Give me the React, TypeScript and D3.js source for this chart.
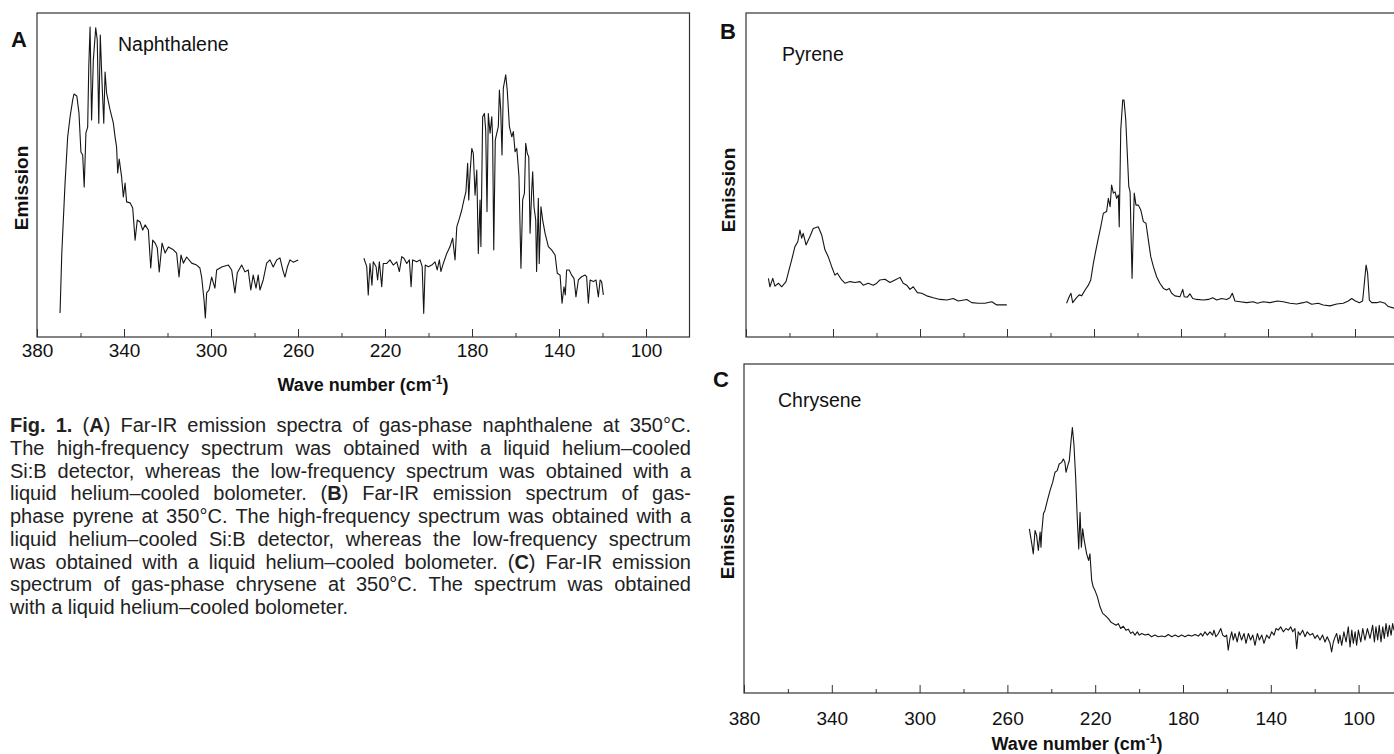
import { useEffect, useRef } from 'react';
import * as d3 from 'd3';

type Pt = [number, number];

// [wave number (cm-1), emission (arbitrary, 0-100 of the frame height)]
const naphthaleneHigh: Pt[] = [
    [369.4, 7.4], [368.6, 25.9], [367.1, 47.5], [365.9, 61.7], [364.8, 67.9], [363.6, 73.1], [363.0, 75.0],
    [361.7, 74.4], [360.7, 69.1], [359.8, 57.1], [359.0, 56.2], [358.3, 46.3], [357.5, 63.0], [356.7, 64.8],
    [356.2, 83.3], [355.6, 95.7], [354.9, 67.0], [354.1, 85.5], [353.0, 95.4], [352.3, 91.7], [351.6, 66.0],
    [350.9, 93.2], [350.1, 78.4], [349.3, 66.0], [348.7, 81.8], [348.0, 75.3], [346.4, 70.1], [344.9, 66.0],
    [344.1, 61.7], [343.4, 58.6], [342.9, 50.6], [342.2, 54.9], [341.1, 49.4], [340.3, 43.2], [339.5, 47.5],
    [338.8, 41.7], [337.2, 41.4], [336.0, 39.8], [334.9, 29.9], [333.9, 36.1], [332.6, 35.5], [331.4, 33.0],
    [330.3, 34.6], [328.8, 33.0], [327.7, 21.3], [326.8, 29.9], [325.7, 29.0], [324.7, 27.5], [323.8, 20.1],
    [322.5, 29.0], [321.1, 25.9], [319.6, 27.8], [317.3, 26.9], [315.8, 25.9], [314.7, 18.5], [313.8, 25.3],
    [312.7, 22.8], [311.2, 24.7], [308.9, 22.8], [306.6, 22.2], [305.1, 21.3], [304.3, 18.5], [303.2, 11.4],
    [302.6, 5.9], [302.0, 13.6], [300.9, 14.5], [299.7, 18.5], [298.2, 15.1], [297.4, 20.7], [295.1, 21.6],
    [292.0, 22.2], [290.5, 20.7], [289.0, 13.6], [287.9, 19.8], [285.9, 22.2], [284.4, 20.1], [282.9, 20.7],
    [281.7, 14.5], [280.6, 19.1], [279.3, 15.1], [278.3, 19.1], [277.5, 14.5], [276.0, 17.6], [274.4, 22.8],
    [272.9, 23.8], [271.4, 21.6], [269.8, 23.8], [268.3, 24.4], [267.0, 20.7], [266.0, 18.5], [264.9, 21.6],
    [263.7, 23.8], [262.2, 23.1], [259.9, 23.8],
];

const naphthaleneLow: Pt[] = [
    [229.7, 24.3], [228.4, 21.7], [227.7, 13.0], [226.9, 22.7], [226.0, 16.0], [225.4, 23.2], [224.1, 21.7],
    [223.4, 17.6], [222.6, 23.2], [221.5, 15.5], [220.8, 22.7], [219.2, 22.7], [217.7, 23.8], [216.2, 22.2],
    [214.6, 23.2], [213.4, 20.2], [212.3, 24.8], [211.3, 24.3], [210.0, 22.7], [208.8, 23.8], [208.0, 15.5],
    [207.3, 23.8], [205.4, 23.2], [203.9, 23.8], [202.9, 21.7], [202.2, 7.3], [201.5, 22.2], [200.1, 21.7],
    [198.5, 22.2], [197.0, 23.2], [196.0, 20.7], [195.0, 23.8], [194.3, 20.2], [193.2, 22.7], [191.6, 25.8],
    [190.1, 27.9], [188.9, 30.5], [187.8, 23.8], [187.0, 34.0], [185.8, 36.6], [184.7, 39.2], [183.7, 42.3],
    [182.8, 44.8], [182.0, 53.6], [181.5, 42.3], [180.9, 50.5], [180.1, 58.2], [179.4, 56.7], [178.6, 43.8],
    [177.8, 51.5], [177.1, 25.8], [176.3, 42.3], [175.9, 27.9], [175.1, 68.0], [174.3, 69.0], [173.7, 63.9],
    [173.1, 38.7], [172.5, 69.0], [171.7, 62.9], [170.9, 68.0], [170.5, 60.8], [170.0, 26.9], [169.3, 60.8],
    [168.6, 62.9], [167.9, 64.9], [167.4, 76.2], [166.8, 70.1], [166.2, 56.2], [165.6, 76.8], [164.5, 80.9],
    [163.8, 76.2], [162.8, 64.9], [161.7, 61.8], [161.0, 63.4], [160.2, 57.2], [159.4, 58.2], [158.4, 49.5],
    [157.5, 21.2], [156.7, 42.3], [155.9, 44.4], [155.3, 59.8], [154.6, 56.7], [153.9, 55.6], [153.3, 32.0],
    [152.6, 44.4], [152.1, 51.0], [151.5, 40.2], [150.7, 36.1], [150.3, 20.2], [149.5, 42.8], [149.1, 22.7],
    [148.3, 40.2], [147.5, 36.1], [146.4, 32.0], [144.9, 27.9], [143.4, 26.9], [141.8, 25.3], [140.8, 19.7],
    [139.5, 19.1], [138.6, 10.4], [137.7, 15.5], [137.1, 13.0], [136.5, 20.7], [135.3, 20.7], [134.2, 19.1],
    [133.1, 18.1], [132.2, 12.4], [131.1, 17.6], [129.6, 18.6], [128.0, 19.1], [127.3, 18.6], [126.5, 10.4],
    [125.7, 17.6], [124.2, 17.1], [123.0, 17.6], [121.9, 12.4], [121.1, 17.6], [120.4, 17.1], [119.6, 13.0],
];

const pyreneHigh: Pt[] = [
    [369.7, 18.1], [369.0, 15.5], [367.7, 18.1], [366.7, 15.7], [365.1, 16.6], [363.6, 15.5], [361.6, 17.1],
    [360.6, 19.7], [359.0, 23.8], [357.5, 27.9], [356.2, 29.4], [355.2, 33.0], [354.4, 30.5], [353.7, 32.0],
    [352.4, 28.4], [350.6, 31.0], [349.1, 33.5], [346.8, 34.0], [345.2, 31.5], [343.7, 26.9], [342.2, 24.8],
    [340.6, 21.7], [339.1, 19.1], [338.0, 19.7], [336.0, 17.6], [334.5, 16.6], [332.2, 17.1], [329.9, 16.8],
    [327.6, 17.1], [326.1, 16.0], [323.8, 16.6], [321.5, 16.0], [319.9, 16.6], [318.4, 17.6], [316.1, 17.8],
    [313.8, 16.8], [311.5, 17.6], [309.2, 18.4], [307.7, 16.6], [306.1, 16.0], [304.6, 14.7], [303.1, 15.5],
    [301.2, 13.7], [299.2, 13.5], [296.9, 12.7], [293.9, 12.1], [290.8, 11.6], [287.7, 11.4], [284.7, 11.9],
    [282.4, 11.1], [278.5, 11.6], [276.2, 10.6], [273.2, 10.4], [270.1, 10.4], [267.0, 10.9], [264.7, 9.9],
    [262.4, 9.9], [260.1, 9.9],
];

const pyreneLow: Pt[] = [
    [232.6, 10.4], [231.4, 12.4], [230.6, 13.5], [229.8, 10.6], [228.3, 11.9], [226.8, 13.0], [225.7, 12.7],
    [224.1, 14.5], [222.6, 16.0], [221.5, 17.6], [220.3, 22.7], [219.1, 26.9], [218.0, 30.5], [216.9, 34.0],
    [215.7, 38.2], [214.2, 38.7], [213.4, 42.8], [212.6, 40.2], [211.9, 46.9], [211.1, 44.4], [210.3, 44.8],
    [209.6, 42.8], [208.8, 43.8], [208.4, 34.0], [207.7, 63.9], [206.8, 73.1], [206.2, 73.1], [205.4, 67.0],
    [204.7, 56.7], [204.0, 46.4], [203.4, 44.8], [202.5, 18.1], [201.5, 44.4], [200.7, 40.7], [199.6, 40.7],
    [198.5, 39.2], [197.3, 35.6], [196.1, 35.1], [195.0, 29.9], [193.9, 24.8], [192.7, 21.7], [191.2, 18.6],
    [189.7, 16.6], [188.1, 15.0], [186.6, 14.5], [185.4, 15.0], [184.3, 13.5], [182.8, 12.7], [180.5, 12.4],
    [179.2, 14.7], [178.5, 12.4], [177.1, 12.3], [175.9, 13.3], [174.6, 11.9], [172.8, 11.6], [169.7, 11.4],
    [167.4, 11.6], [165.4, 12.1], [163.6, 11.4], [161.3, 11.9], [159.0, 11.6], [157.5, 12.1], [156.4, 13.5],
    [155.2, 11.1], [152.9, 10.9], [149.8, 10.6], [146.8, 10.9], [144.9, 10.4], [142.2, 10.9], [139.1, 10.6],
    [135.7, 11.1], [133.0, 10.9], [129.9, 10.4], [126.8, 10.2], [123.8, 10.6], [122.2, 10.9], [119.9, 10.1],
    [116.9, 10.4], [114.6, 9.9], [111.5, 9.6], [108.4, 10.2], [105.4, 10.4], [103.1, 11.1], [101.5, 11.9],
    [100.0, 11.2], [98.0, 10.6], [96.5, 11.1], [95.7, 16.6], [94.9, 22.2], [94.2, 19.7], [93.4, 11.4],
    [92.3, 10.6], [90.0, 10.6], [88.5, 10.9], [86.2, 10.4], [84.7, 9.4], [82.1, 8.9],
];

const chrysene: Pt[] = [
    [250.0, 49.9], [248.9, 45.4], [248.2, 42.3], [247.4, 49.4], [246.7, 47.9], [245.9, 43.3], [245.1, 48.9],
    [244.7, 44.3], [244.4, 48.4], [243.6, 54.5], [242.9, 55.5], [241.8, 58.5], [240.6, 61.5], [239.4, 64.0],
    [238.3, 67.1], [237.3, 67.6], [236.4, 69.6], [235.3, 70.1], [234.5, 71.1], [233.8, 70.1], [233.3, 67.1],
    [232.5, 69.1], [231.8, 70.6], [231.0, 76.7], [230.4, 80.7], [229.7, 75.7], [228.9, 65.5], [228.2, 53.4],
    [227.5, 43.8], [226.9, 54.9], [226.3, 44.3], [225.7, 49.9], [225.0, 46.4], [223.9, 42.3], [223.0, 40.3],
    [222.4, 42.3], [221.6, 34.2], [220.9, 32.2], [220.1, 31.2], [219.0, 29.2], [217.8, 26.2], [216.6, 24.2],
    [215.5, 23.6], [214.0, 22.6], [212.9, 21.6], [211.8, 21.1], [210.5, 20.6], [209.5, 21.1], [208.4, 19.6],
    [207.2, 20.3], [206.0, 19.1], [204.9, 19.4], [203.8, 18.1], [202.9, 18.6], [201.9, 17.6], [200.8, 18.6],
    [199.9, 17.6], [198.8, 18.1], [197.3, 17.6], [195.8, 17.9], [194.3, 17.1], [192.8, 17.6], [191.3, 17.1],
    [189.7, 17.3], [188.2, 17.1], [186.7, 17.8], [185.1, 17.1], [183.6, 17.6], [182.1, 17.1], [180.6, 17.6],
    [179.1, 17.1], [177.6, 17.6], [176.0, 17.3], [174.5, 17.8], [173.0, 17.3], [171.9, 18.1], [171.0, 17.3],
    [170.0, 18.6], [168.9, 17.6], [167.7, 18.6], [166.5, 17.6], [165.9, 19.1], [165.0, 17.1], [163.9, 18.1],
    [162.8, 19.6], [161.9, 17.6], [160.9, 17.1], [160.1, 17.6], [159.4, 13.0], [158.6, 16.6], [157.8, 18.6],
    [157.1, 16.1], [156.3, 18.1], [155.3, 15.5], [154.4, 18.6], [153.3, 16.1], [152.2, 18.1], [151.3, 15.1],
    [150.2, 18.1], [149.2, 16.1], [148.2, 17.6], [147.2, 14.5], [146.1, 18.1], [145.2, 16.1], [144.1, 17.6],
    [143.1, 15.1], [141.9, 17.6], [140.7, 16.6], [139.6, 18.6], [138.5, 17.6], [137.6, 19.6], [136.6, 19.1],
    [135.5, 20.1], [134.3, 18.6], [133.1, 19.6], [132.0, 19.1], [130.9, 20.1], [130.0, 18.6], [129.0, 19.6],
    [128.2, 13.5], [127.5, 18.6], [126.7, 17.6], [125.5, 19.1], [124.4, 17.1], [123.4, 18.6], [122.1, 17.6],
    [120.9, 18.1], [119.9, 16.6], [118.8, 17.6], [117.6, 16.1], [116.4, 17.6], [115.3, 15.5], [114.3, 17.1],
    [113.0, 15.1], [112.3, 12.5], [111.5, 15.5], [110.8, 16.9], [110.0, 18.1], [109.2, 15.1], [108.5, 17.6],
    [107.7, 14.5], [106.7, 18.6], [105.7, 15.5], [104.7, 20.1], [103.9, 14.0], [103.1, 19.1], [102.4, 15.1],
    [101.6, 18.6], [100.9, 14.5], [100.1, 19.1], [99.0, 15.5], [98.1, 19.6], [97.1, 16.1], [96.0, 19.6],
    [94.8, 16.6], [93.6, 20.6], [92.8, 15.5], [92.1, 20.1], [91.3, 16.1], [90.6, 20.6], [89.8, 15.5],
    [89.0, 20.1], [88.3, 16.6], [87.5, 21.1], [86.7, 17.1], [86.0, 20.6], [85.2, 17.6], [84.5, 21.1],
    [83.9, 19.1],
];

const majorTicks = [380, 340, 300, 260, 220, 180, 140, 100];
const minorTicks = [360, 320, 280, 240, 200, 160, 120];
const panelLetters = ['A', 'B', 'C'];
const compoundNames = ['Naphthalene', 'Pyrene', 'Chrysene'];

// Caption, one entry per printed line; **...** marks bold runs
const captionLines = [
    '**Fig. 1.** (**A**) Far-IR emission spectra of gas-phase naphthalene at 350°C.',
    'The high-frequency spectrum was obtained with a liquid helium–cooled',
    'Si:B detector, whereas the low-frequency spectrum was obtained with a',
    'liquid helium–cooled bolometer. (**B**) Far-IR emission spectrum of gas-',
    'phase pyrene at 350°C. The high-frequency spectrum was obtained with a',
    'liquid helium–cooled Si:B detector, whereas the low-frequency spectrum',
    'was obtained with a liquid helium–cooled bolometer. (**C**) Far-IR emission',
    'spectrum of gas-phase chrysene at 350°C. The spectrum was obtained',
    'with a liquid helium–cooled bolometer.',
];

const FONT = '"Liberation Sans", Arial, Helvetica, sans-serif';

export default function App() {
    const svgRef = useRef<SVGSVGElement>(null);

    useEffect(() => {
        if (!svgRef.current) return;

        const svg = d3.select(svgRef.current);
        svg.selectAll('*').remove();

        const lineColor = '#151515';
        const frameColor = '#333';
        const textColor = '#111';

        // panel geometry (pixels)
        const layout = [
            { left: 37, right: 689.5, top: 13, bottom: 337, data: [naphthaleneHigh, naphthaleneLow], labelPad: 6.5,
              letter: [11, 47], name: [118, 51], emission: [28, 188], title: [363, 391] },
            { left: 746, right: 1398.5, top: 13, bottom: 337, data: [pyreneHigh, pyreneLow], labelPad: null,
              letter: [720, 39], name: [782, 61], emission: [735, 190], title: null },
            { left: 744, right: 1402.5, top: 364, bottom: 693, data: [chrysene], labelPad: 18.5,
              letter: [713, 387], name: [778, 407], emission: [734, 537], title: [1077, 750] },
        ];

        layout.forEach((p, i) => {
            const g = svg.append('g');

            const x = d3.scaleLinear().domain([380, 80]).range([p.left, p.right]);
            const y = d3.scaleLinear().domain([0, 100]).range([p.bottom, p.top]);

            // frame
            g.append('rect')
                .attr('x', p.left)
                .attr('y', p.top)
                .attr('width', p.right - p.left)
                .attr('height', p.bottom - p.top)
                .attr('fill', 'none')
                .attr('stroke', frameColor)
                .attr('stroke-width', 1.2);

            // major ticks point inward, labels below
            const major = d3.axisBottom(x)
                .tickValues(majorTicks)
                .tickSize(-8)
                .tickPadding(p.labelPad ?? 0)
                .tickFormat(p.labelPad === null ? () => '' : d3.format('d'));

            g.append('g')
                .attr('transform', `translate(0,${p.bottom})`)
                .call(major)
                .call(a => a.select('.domain').remove())
                .attr('font-family', FONT)
                .attr('font-size', 19)
                .style('color', frameColor)
                .call(a => a.selectAll('text').attr('fill', textColor));

            const minor = d3.axisBottom(x)
                .tickValues(minorTicks)
                .tickSize(-4)
                .tickFormat(() => '');

            g.append('g')
                .attr('transform', `translate(0,${p.bottom})`)
                .call(minor)
                .call(a => a.select('.domain').remove())
                .style('color', frameColor);

            // spectra
            const line = d3.line<Pt>()
                .x(d => x(d[0]))
                .y(d => y(d[1]));

            p.data.forEach(seg => {
                g.append('path')
                    .datum(seg)
                    .attr('d', line)
                    .attr('fill', 'none')
                    .attr('stroke', lineColor)
                    .attr('stroke-width', 1.1)
                    .attr('stroke-linejoin', 'round');
            });

            // labels
            g.append('text')
                .attr('x', p.letter[0])
                .attr('y', p.letter[1])
                .attr('font-family', FONT)
                .attr('font-weight', 'bold')
                .attr('font-size', 22)
                .attr('fill', textColor)
                .text(panelLetters[i]);

            g.append('text')
                .attr('x', p.name[0])
                .attr('y', p.name[1])
                .attr('font-family', FONT)
                .attr('font-size', 19.5)
                .attr('fill', textColor)
                .text(compoundNames[i]);

            g.append('text')
                .attr('transform', `translate(${p.emission[0]},${p.emission[1]}) rotate(-90)`)
                .attr('text-anchor', 'middle')
                .attr('font-family', FONT)
                .attr('font-weight', 'bold')
                .attr('font-size', 19)
                .attr('fill', textColor)
                .text('Emission');

            if (p.title) {
                const t = g.append('text')
                    .attr('x', p.title[0])
                    .attr('y', p.title[1])
                    .attr('text-anchor', 'middle')
                    .attr('font-family', FONT)
                    .attr('font-weight', 'bold')
                    .attr('font-size', 18)
                    .attr('fill', textColor);
                t.append('tspan').text('Wave number (cm');
                t.append('tspan').attr('dy', -7).attr('font-size', 12).text('-1');
                t.append('tspan').attr('dy', 7).text(')');
            }
        });

        // --- Caption, justified word by word ---
        const capLeft = 10;
        const capRight = 691;
        const capTop = 432;
        const capStep = 22.75;
        const capSize = 20;

        captionLines.forEach((text, li) => {
            const words: { t: string; b: boolean }[][] = [[]];
            text.split('**').forEach((seg, si) => {
                seg.split(' ').forEach((part, j) => {
                    if (j > 0) words.push([]);
                    if (part) words[words.length - 1].push({ t: part, b: si % 2 === 1 });
                });
            });
            const ws = words.filter(w => w.length > 0);

            const nodes = ws.map(w => {
                const t = svg.append('text')
                    .attr('y', capTop + li * capStep)
                    .attr('font-family', FONT)
                    .attr('font-size', capSize)
                    .attr('fill', '#222');
                w.forEach(piece => {
                    t.append('tspan')
                        .attr('font-weight', piece.b ? 'bold' : 'normal')
                        .text(piece.t);
                });
                return t;
            });

            const widths = nodes.map(n => (n.node() as SVGTextElement).getComputedTextLength());
            const total = d3.sum(widths);
            const last = li === captionLines.length - 1;
            const gap = last || ws.length < 2
                ? capSize * 0.278
                : (capRight - capLeft - total) / (ws.length - 1);

            let cx = capLeft;
            nodes.forEach((n, k) => {
                n.attr('x', cx);
                cx += widths[k] + gap;
            });
        });
    }, []);

    return (
        <svg
            ref={svgRef}
            width={1394}
            height={754}
            style={{ position: 'absolute', left: 0, top: 0, background: '#fff' }}
        />
    );
}
